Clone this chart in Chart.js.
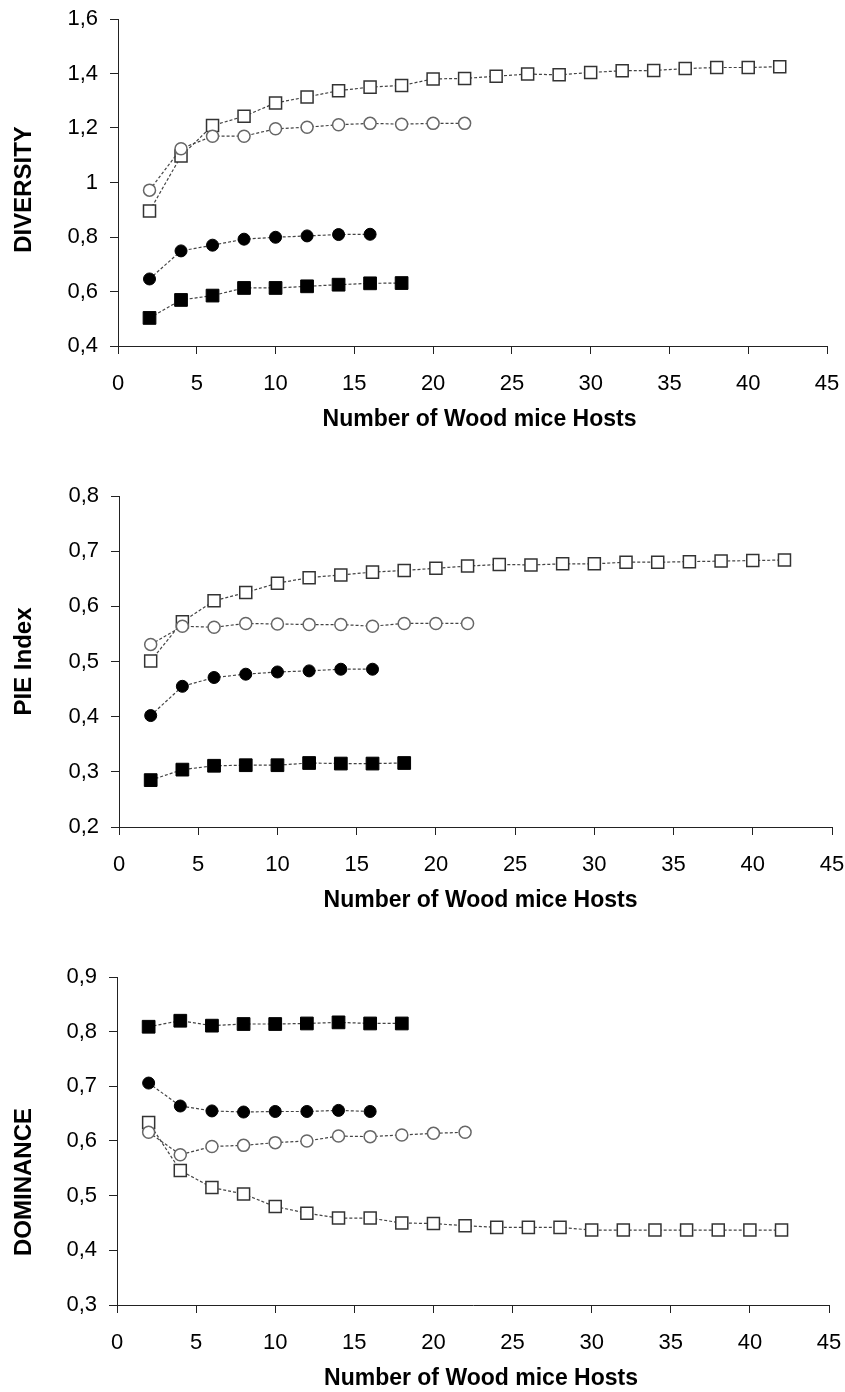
<!DOCTYPE html>
<html>
<head>
<meta charset="utf-8">
<title>Diversity, PIE index and dominance vs number of wood mice hosts</title>
<script src="https://cdn.jsdelivr.net/npm/chart.js@4.4.1/dist/chart.umd.min.js"></script>
<style>
  html, body { margin: 0; padding: 0; background: #fff; overflow: hidden; }
  .panel { position: absolute; left: 0; width: 845px; }
</style>
</head>
<body>
<div class="panel" style="top:0px"><canvas id="c1" width="845" height="433"></canvas></div>
<div class="panel" style="top:470px"><canvas id="c2" width="845" height="444"></canvas></div>
<div class="panel" style="top:950px"><canvas id="c3" width="845" height="442"></canvas></div>
<script>
// x values (number of hosts) for each of the four series
const hostsFilledSq = [2, 4, 6, 8, 10, 12, 14, 16, 18];
const hostsFilledCi = [2, 4, 6, 8, 10, 12, 14, 16];
const hostsOpenCi = [2, 4, 6, 8, 10, 12, 14, 16, 18, 20, 22];
const hostsOpenSq = [2, 4, 6, 8, 10, 12, 14, 16, 18, 20, 22, 24, 26, 28, 30, 32, 34, 36, 38, 40, 42];

// DIVERSITY
const divFilledSq = [0.503, 0.569, 0.585, 0.613, 0.613, 0.619, 0.625, 0.630, 0.631];
const divFilledCi = [0.646, 0.749, 0.770, 0.792, 0.799, 0.804, 0.809, 0.810];
const divOpenCi = [0.972, 1.124, 1.170, 1.170, 1.197, 1.203, 1.212, 1.217, 1.214, 1.217, 1.217];
const divOpenSq = [0.895, 1.097, 1.209, 1.243, 1.292, 1.314, 1.337, 1.350, 1.356, 1.380, 1.382,
                   1.390, 1.398, 1.395, 1.404, 1.410, 1.411, 1.418, 1.422, 1.422, 1.425];

// PIE Index
const pieFilledSq = [0.285, 0.304, 0.311, 0.312, 0.312, 0.316, 0.315, 0.315, 0.316];
const pieFilledCi = [0.402, 0.455, 0.471, 0.477, 0.481, 0.483, 0.486, 0.486];
const pieOpenCi = [0.531, 0.564, 0.562, 0.569, 0.568, 0.567, 0.567, 0.564, 0.569, 0.569, 0.569];
const pieOpenSq = [0.501, 0.572, 0.610, 0.625, 0.642, 0.652, 0.657, 0.662, 0.665, 0.669, 0.673,
                   0.676, 0.675, 0.677, 0.677, 0.680, 0.680, 0.681, 0.682, 0.683, 0.684];

// DOMINANCE
const domFilledSq = [0.809, 0.820, 0.811, 0.814, 0.814, 0.815, 0.817, 0.815, 0.815];
const domFilledCi = [0.706, 0.664, 0.655, 0.653, 0.654, 0.654, 0.656, 0.654];
const domOpenCi = [0.616, 0.575, 0.590, 0.592, 0.597, 0.600, 0.609, 0.608, 0.611, 0.614, 0.616];
const domOpenSq = [0.634, 0.546, 0.515, 0.503, 0.480, 0.468, 0.459, 0.459, 0.450, 0.449, 0.445,
                   0.442, 0.442, 0.442, 0.437, 0.437, 0.437, 0.437, 0.437, 0.437, 0.437];

const xTitle = 'Number of Wood mice Hosts';
const xTicks = { min: 0, max: 45, step: 5 };

const TICK_FONT = { family: '"Liberation Sans", Arial, sans-serif', size: 22 };
const X_TITLE_FONT = 'bold 23px "Liberation Sans", Arial, sans-serif';
const Y_TITLE_FONT = 'bold 24px "Liberation Sans", Arial, sans-serif';
const AXIS_COLOR = '#222';

function pairs(xs, ys) {
  return xs.map((x, i) => ({ x: x, y: ys[i] }));
}

// comma decimal, "1" instead of "1,0"
function commaLabel(v) {
  return String(Math.round(v * 10) / 10).replace('.', ',');
}

// marker looks, drawn in this order (open squares end up on top)
const looks = {
  filledSq: { pointStyle: 'rect', pointRadius: 9, pointBackgroundColor: '#000', pointBorderColor: '#000', pointBorderWidth: 1 },
  filledCi: { pointStyle: 'circle', pointRadius: 6, pointBackgroundColor: '#000', pointBorderColor: '#000', pointBorderWidth: 1 },
  openCi:   { pointStyle: 'circle', pointRadius: 6, pointBackgroundColor: '#fff', pointBorderColor: '#666', pointBorderWidth: 1.5 },
  openSq:   { pointStyle: 'rect', pointRadius: 8.5, pointBackgroundColor: '#fff', pointBorderColor: '#333', pointBorderWidth: 1.5 }
};

function series(xs, ys, look) {
  return Object.assign({
    data: pairs(xs, ys),
    borderColor: '#444',
    borderWidth: 1.2,
    borderDash: [3, 2],
    tension: 0,
    fill: false
  }, look);
}

// axis titles drawn next to the chart area (the reference has them slightly off-centre)
const axisTitles = {
  id: 'axisTitles',
  afterDraw(chart, args, opts) {
    const { ctx, chartArea } = chart;
    ctx.save();
    ctx.fillStyle = '#000';
    ctx.textAlign = 'center';
    ctx.textBaseline = 'middle';
    ctx.font = X_TITLE_FONT;
    ctx.fillText(opts.x, (chartArea.left + chartArea.right) / 2 + opts.xShift, chartArea.bottom + opts.xGap);
    ctx.font = Y_TITLE_FONT;
    ctx.translate(opts.yPos, (chartArea.top + chartArea.bottom) / 2 + opts.yShift);
    ctx.rotate(-Math.PI / 2);
    ctx.fillText(opts.y, 0, 0);
    ctx.restore();
  }
};

function makeChart(id, cfg) {
  const datasets = [
    series(hostsFilledSq, cfg.data[0], looks.filledSq),
    series(hostsFilledCi, cfg.data[1], looks.filledCi),
    series(hostsOpenCi, cfg.data[2], looks.openCi),
    series(hostsOpenSq, cfg.data[3], looks.openSq)
  ];
  return new Chart(document.getElementById(id), {
    type: 'line',
    data: { datasets },
    plugins: [axisTitles],
    options: {
      responsive: false,
      animation: false,
      events: [],
      layout: { autoPadding: false, padding: { top: cfg.top, right: 845 - cfg.right, bottom: 0, left: 0 } },
      plugins: {
        legend: { display: false },
        tooltip: { enabled: false },
        axisTitles: { x: xTitle, y: cfg.yTitle, xShift: cfg.xShift, xGap: 74, yPos: 24, yShift: cfg.yShift }
      },
      scales: {
        x: {
          type: 'linear',
          min: xTicks.min,
          max: xTicks.max,
          // fixed axis box; label overhang is covered by the layout padding
          afterFit(scale) { scale.height = 87; scale.paddingLeft = 0; scale.paddingRight = 0; },
          grid: { drawOnChartArea: false, drawTicks: true, tickLength: 8, color: AXIS_COLOR },
          border: { display: true, color: AXIS_COLOR, width: 1 },
          ticks: { stepSize: xTicks.step, autoSkip: false, maxRotation: 0, padding: 17, color: '#000', font: TICK_FONT }
        },
        y: {
          min: cfg.yMin,
          max: cfg.yMax,
          afterFit(scale) { scale.width = cfg.left; scale.paddingTop = 0; scale.paddingBottom = 0; },
          grid: { drawOnChartArea: false, drawTicks: true, tickLength: 8, color: AXIS_COLOR },
          border: { display: true, color: AXIS_COLOR, width: 1 },
          ticks: { stepSize: cfg.yStep, padding: 12, color: '#000', font: TICK_FONT, callback: commaLabel }
        }
      }
    }
  });
}

makeChart('c1', {
  data: [divFilledSq, divFilledCi, divOpenCi, divOpenSq],
  yTitle: 'DIVERSITY', yMin: 0.4, yMax: 1.6, yStep: 0.2,
  top: 19, left: 118, right: 827, xShift: 7, yShift: 7
});

makeChart('c2', {
  data: [pieFilledSq, pieFilledCi, pieOpenCi, pieOpenSq],
  yTitle: 'PIE Index', yMin: 0.2, yMax: 0.8, yStep: 0.1,
  top: 26, left: 119, right: 832, xShift: 5, yShift: 0
});

makeChart('c3', {
  data: [domFilledSq, domFilledCi, domOpenCi, domOpenSq],
  yTitle: 'DOMINANCE', yMin: 0.3, yMax: 0.9, yStep: 0.1,
  top: 27, left: 117, right: 829, xShift: 8, yShift: 41
});
</script>
</body>
</html>
